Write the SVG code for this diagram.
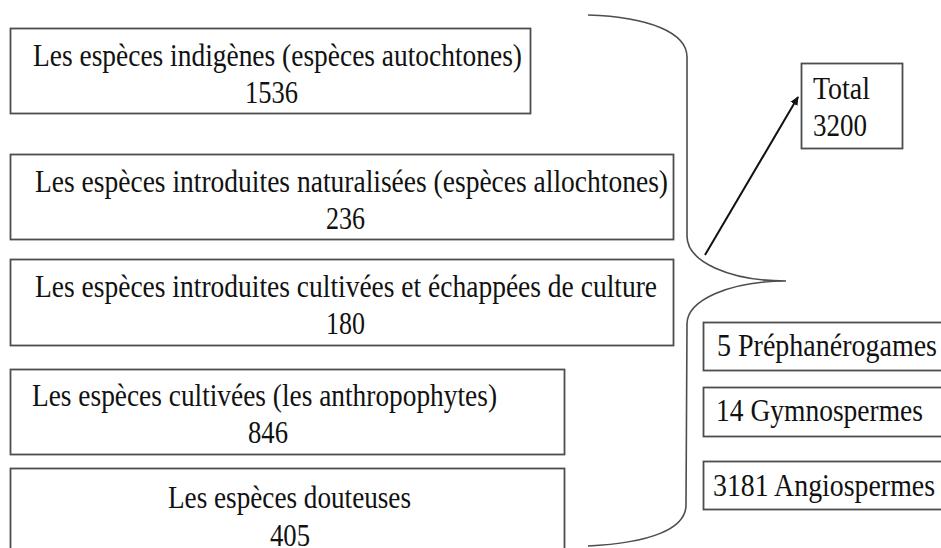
<svg xmlns="http://www.w3.org/2000/svg" width="941" height="548" viewBox="0 0 941 548">
<style>
.box{fill:#fff;stroke:#4d4d4d;stroke-width:1.8}
.t{font-family:'Liberation Serif','Times New Roman',Times,serif;font-size:31px;fill:#111}
.brace{fill:none;stroke:#4d4d4d;stroke-width:1.6}
.arrow{stroke:#111;stroke-width:2;fill:none}
</style>
<defs>
<marker id="ah" markerWidth="10" markerHeight="10" refX="8" refY="5" orient="auto" markerUnits="userSpaceOnUse">
<path d="M0,1 L9,5 L0,9 Z" fill="#111"/>
</marker>
</defs>
<rect width="941" height="548" fill="#fff"/>
<g id="n1">
<rect class="box" x="10.5" y="28.5" width="520" height="85"/>
<text class="t" x="33" y="66" textLength="489" lengthAdjust="spacingAndGlyphs">Les espèces indigènes (espèces autochtones)</text>
<text class="t" x="245" y="103" textLength="53" lengthAdjust="spacingAndGlyphs">1536</text>
</g>
<g id="n2">
<rect class="box" x="10.5" y="154.5" width="663" height="85"/>
<text class="t" x="35" y="192" textLength="633" lengthAdjust="spacingAndGlyphs">Les espèces introduites naturalisées (espèces allochtones)</text>
<text class="t" x="326" y="229" textLength="39" lengthAdjust="spacingAndGlyphs">236</text>
</g>
<g id="n3">
<rect class="box" x="10.5" y="259.5" width="663" height="86"/>
<text class="t" x="35" y="297" textLength="622" lengthAdjust="spacingAndGlyphs">Les espèces introduites cultivées et échappées de culture</text>
<text class="t" x="326" y="334" textLength="39" lengthAdjust="spacingAndGlyphs">180</text>
</g>
<g id="n4">
<rect class="box" x="10.5" y="369.5" width="554" height="85"/>
<text class="t" x="32" y="406" textLength="465" lengthAdjust="spacingAndGlyphs">Les espèces cultivées (les anthropophytes)</text>
<text class="t" x="248" y="443" textLength="40" lengthAdjust="spacingAndGlyphs">846</text>
</g>
<g id="n5">
<rect class="box" x="10.5" y="468.5" width="554" height="100"/>
<text class="t" x="168" y="508" textLength="243" lengthAdjust="spacingAndGlyphs">Les espèces douteuses</text>
<text class="t" x="270" y="546" textLength="40" lengthAdjust="spacingAndGlyphs">405</text>
</g>
<g id="total">
<rect class="box" x="801.5" y="63.5" width="101" height="85"/>
<text class="t" x="813" y="99" textLength="57" lengthAdjust="spacingAndGlyphs">Total</text>
<text class="t" x="813" y="136" textLength="54" lengthAdjust="spacingAndGlyphs">3200</text>
</g>
<g id="preph">
<rect class="box" x="703.5" y="322.5" width="260" height="48"/>
<text class="t" x="717" y="356" textLength="220" lengthAdjust="spacingAndGlyphs">5 Préphanérogames</text>
</g>
<g id="gymno">
<rect class="box" x="703.5" y="387.5" width="260" height="49"/>
<text class="t" x="716" y="421" textLength="207" lengthAdjust="spacingAndGlyphs">14 Gymnospermes</text>
</g>
<g id="angio">
<rect class="box" x="703.5" y="461.5" width="260" height="48"/>
<text class="t" x="713" y="496" textLength="222" lengthAdjust="spacingAndGlyphs">3181 Angiospermes</text>
</g>
<g id="connectors">
<path class="brace" d="M588,15 C650,17 687,33 687,57 L687,236 C687,262 730,281 786,281 C730,281 687,300 687,324 L686,505 C686,529 650,543 588,546"/>
<line class="arrow" x1="705" y1="255" x2="798" y2="97" marker-end="url(#ah)"/>
</g>
</svg>
